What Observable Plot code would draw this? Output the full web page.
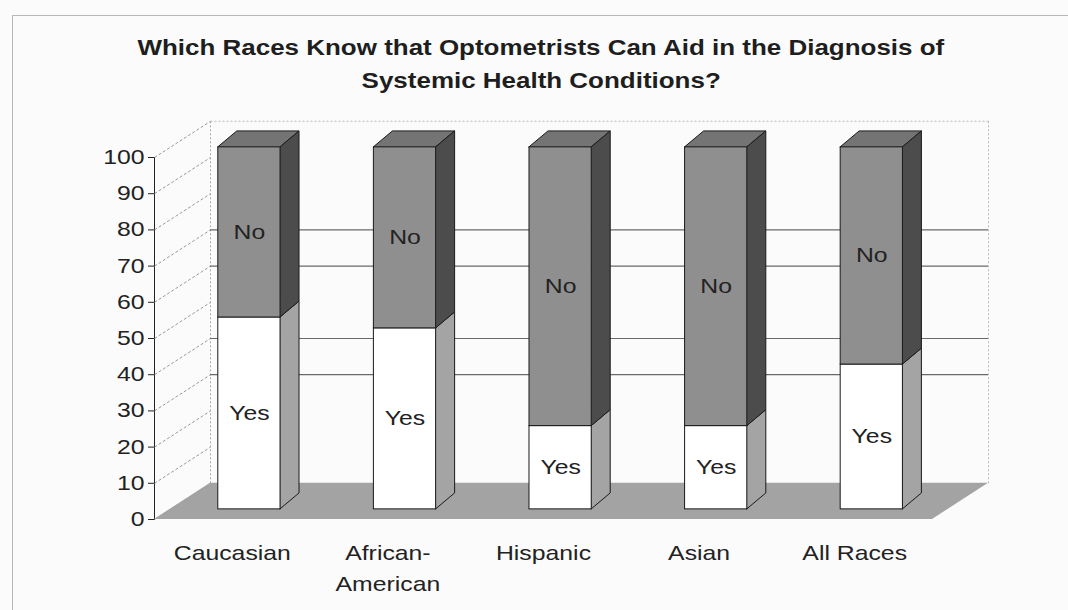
<!DOCTYPE html>
<html>
<head>
<meta charset="utf-8">
<script src="https://cdn.jsdelivr.net/npm/d3@7"></script>
<script src="https://cdn.jsdelivr.net/npm/@observablehq/plot@0.6"></script>
<style>
  html, body { margin: 0; padding: 0; background: #fbfbfb; overflow: hidden; width: 1068px; height: 610px; }
  #frame { position: absolute; left: 12px; top: 15px; width: 1100px; height: 640px; border: 1px solid #b8b8b8; box-sizing: border-box; }
  #title { position: absolute; left: 0; top: 31px; width: 1082px; text-align: center;
           font-family: "Liberation Sans", Arial, sans-serif; font-weight: bold; font-size: 22px; line-height: 33px; color: #1e1e1e; }
  #title span { display: inline-block; transform: scaleX(1.18); transform-origin: center; }
  #chart { position: absolute; left: 0; top: 95px; }
  #chart svg { background: transparent; }
</style>
</head>
<body>
<div id="frame"></div>
<div id="title"><span>Which Races Know that Optometrists Can Aid in the Diagnosis of</span><br><span>Systemic Health Conditions?</span></div>
<div id="chart"></div>
<script>
// ---- data ----
const categories = ["Caucasian", "African-\nAmerican", "Hispanic", "Asian", "All Races"];
const yesValues = [53, 50, 23, 23, 40];
const noValues  = [47, 50, 77, 77, 60];
const segmentNames = ["Yes", "No"];
const yTicks = [0, 10, 20, 30, 40, 50, 60, 70, 80, 90, 100];
const wallGridValues = [30, 40, 60, 70];

// ---- 3D geometry (style) ----
const X0 = -0.5, X1 = categories.length - 0.5;
const WALL_DX = 0.36, WALL_DY = 10;
const BAR_L = -0.09, BAR_R = 0.31, FRONT_DY = 2.8, SIDE_DX = 0.122, SIDE_DY = 4.4;
const EDGE = "#1a1a1a";

const segs = categories.flatMap((c, i) => [
  {i, key: segmentNames[0], lo: 0, hi: yesValues[i]},
  {i, key: segmentNames[1], lo: yesValues[i], hi: yesValues[i] + noValues[i]}
]);
const sidePts = segs.flatMap(s => [
  {k: s.i + s.key, key: s.key, x: s.i + BAR_R, y1: s.lo + FRONT_DY, y2: s.hi + FRONT_DY},
  {k: s.i + s.key, key: s.key, x: s.i + BAR_R + SIDE_DX, y1: s.lo + FRONT_DY + SIDE_DY, y2: s.hi + FRONT_DY + SIDE_DY}
]);
const topPts = categories.flatMap((c, i) => {
  const t = yesValues[i] + noValues[i] + FRONT_DY;
  return [
    {i, y: t, x1: i + BAR_L, x2: i + BAR_R},
    {i, y: t + SIDE_DY, x1: i + BAR_L + SIDE_DX, x2: i + BAR_R + SIDE_DX}
  ];
});
const floorPts = [
  {y: 0, x1: X0, x2: X1},
  {y: WALL_DY, x1: X0 + WALL_DX, x2: X1 + WALL_DX}
];
const wallTop = yTicks[yTicks.length - 1] + WALL_DY;
const catIdx = categories.map((c, i) => i);
const font = "'Liberation Sans', Arial, sans-serif";

const chart = Plot.plot({
  width: 1068,
  height: 505,
  marginLeft: 154,
  marginRight: 80,
  marginTop: 62,
  marginBottom: 81,
  style: {fontFamily: font, fontSize: "20px", color: "#222", background: "transparent"},
  x: {axis: null, domain: [X0, X1 + WALL_DX]},
  y: {domain: [0, 100], ticks: yTicks, tickSize: 6, tickPadding: 4, line: true, label: null},
  marks: [
    // left wall diagonal gridlines
    Plot.link(yTicks, {x1: () => X0, y1: d => d, x2: () => X0 + WALL_DX, y2: d => d + WALL_DY,
      stroke: "#9a9a9a", strokeDasharray: "3,2", strokeWidth: 1}),
    // back wall edges
    Plot.link([0], {x1: () => X0 + WALL_DX, x2: () => X0 + WALL_DX, y1: () => WALL_DY, y2: () => wallTop,
      stroke: "#aaa", strokeDasharray: "2,2"}),
    Plot.link([0], {x1: () => X0 + WALL_DX, x2: () => X1 + WALL_DX, y1: () => wallTop, y2: () => wallTop,
      stroke: "#bbb", strokeDasharray: "2,2"}),
    Plot.link([0], {x1: () => X1 + WALL_DX, x2: () => X1 + WALL_DX, y1: () => WALL_DY, y2: () => wallTop,
      stroke: "#bbb", strokeDasharray: "2,2"}),
    // back wall gridlines
    Plot.ruleY(wallGridValues, {y: d => d + WALL_DY, x1: () => X0 + WALL_DX, x2: () => X1 + WALL_DX,
      stroke: "#6a6a6a", strokeWidth: 1.2}),
    // floor
    Plot.areaX(floorPts, {y: "y", x1: "x1", x2: "x2", fill: "#a3a3a3", curve: "linear"}),
    // top faces
    Plot.areaX(topPts, {y: "y", x1: "x1", x2: "x2", z: "i", fill: "#747474", stroke: EDGE, strokeWidth: 1, curve: "linear"}),
    // side faces
    Plot.areaY(sidePts.filter(d => d.key === "Yes"), {x: "x", y1: "y1", y2: "y2", z: "k", fill: "#a4a4a4", stroke: EDGE, strokeWidth: 1, curve: "linear"}),
    Plot.areaY(sidePts.filter(d => d.key === "No"), {x: "x", y1: "y1", y2: "y2", z: "k", fill: "#4c4c4c", stroke: EDGE, strokeWidth: 1, curve: "linear"}),
    // front faces
    Plot.rect(segs, {x1: d => d.i + BAR_L, x2: d => d.i + BAR_R, y1: d => d.lo + FRONT_DY, y2: d => d.hi + FRONT_DY,
      fill: d => d.key === "Yes" ? "#ffffff" : "#8f8f8f", stroke: EDGE, strokeWidth: 1}),
    // segment labels
    Plot.text(segs, {x: d => d.i + (BAR_L + BAR_R) / 2, y: d => (d.lo + d.hi) / 2 + FRONT_DY, text: "key",
      fontSize: 20, fill: "#222"}),
    // category labels
    Plot.text(catIdx, {x: d => d, y: () => 0, dy: 18, text: d => categories[d], lineAnchor: "top", lineHeight: 1.55,
      fontSize: 20, fill: "#222"})
  ]
});
// horizontally widen the lettering as in the scanned reference (scale about each text's anchor)
chart.querySelectorAll("text").forEach(t => {
  const ax = parseFloat(t.getAttribute("x")) || 0;
  const prev = t.getAttribute("transform") || "";
  t.setAttribute("transform", `${prev} translate(${ax},0) scale(1.24,1) translate(${-ax},0)`);
});
document.getElementById("chart").appendChild(chart);
</script>
</body>
</html>
